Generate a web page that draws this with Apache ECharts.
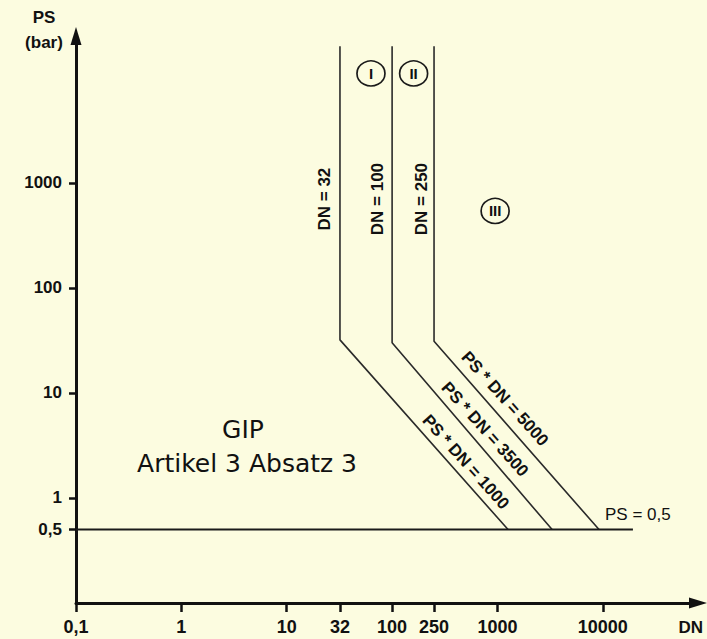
<!DOCTYPE html>
<html>
<head>
<meta charset="utf-8">
<script src="https://cdn.jsdelivr.net/npm/echarts@6/dist/echarts.min.js"></script>
<style>
  html, body { margin: 0; padding: 0; background: #fcfce0; }
  #chart { width: 707px; height: 639px; }
</style>
</head>
<body>
<div id="chart"></div>
<script>
// ---- data ----
const xTicks = [0.1, 1, 10, 32, 100, 250, 1000, 10000];   // DN
const yTicks = [0.5, 1, 10, 100, 1000];                     // PS (bar)
const curveI   = [[32, 20000], [32, 32], [1260, 0.5]];      // DN = 32 / PS*DN = 1000
const curveII  = [[100, 20000], [100, 30], [3300, 0.5]];    // DN = 100 / PS*DN = 3500
const curveIII = [[250, 20000], [250, 31], [9200, 0.5]];    // DN = 250 / PS*DN = 5000
const psLine   = [[0.1, 0.5], [19300, 0.5]];                // PS = 0,5

const FONT = 'Liberation Sans, Arial, sans-serif';
const INK = '#111111';

function fmtTick(ticks) {
  return function (v) {
    let best = ticks[0], d = Infinity;
    ticks.forEach(t => {
      const dd = Math.abs(Math.log10(t) - Math.log10(v));
      if (dd < d) { d = dd; best = t; }
    });
    return String(best).replace('.', ',');
  };
}

function lineSeries(data) {
  return {
    type: 'line', data: data, symbol: 'none', silent: true,
    lineStyle: { color: '#2a2a2a', width: 1.6 }, z: 3
  };
}

function textSeries(pt, text, extra) {
  return {
    type: 'scatter', data: [pt], symbolSize: 0, silent: true, z: 5,
    itemStyle: { color: 'rgba(0,0,0,0)', opacity: 1 },
    label: Object.assign({
      show: true, position: 'inside', formatter: text,
      align: 'center', verticalAlign: 'middle',
      textBorderWidth: 0, textBorderColor: 'rgba(0,0,0,0)',
      fontFamily: FONT, fontSize: 17, fontWeight: 'bold', color: INK
    }, extra || {})
  };
}

function circleSeries(pt, text) {
  return {
    type: 'scatter', data: [pt], symbol: 'circle', symbolSize: [28, 25], silent: true, z: 5,
    itemStyle: { color: 'rgba(0,0,0,0)', borderColor: '#1a1a1a', borderWidth: 1.6, opacity: 1 },
    label: { show: true, position: 'inside', formatter: text, fontFamily: FONT,
             textBorderWidth: 0, textBorderColor: 'rgba(0,0,0,0)',
             fontSize: 15, fontWeight: 'bold', color: INK }
  };
}

const chart = echarts.init(document.getElementById('chart'), null, { renderer: 'svg' });
chart.setOption({
  backgroundColor: '#fcfce0',
  animation: false,
  grid: { left: 76, right: 9, top: 36, bottom: 36 },
  xAxis: {
    type: 'log', logBase: 10, min: 0.1, max: 80000,
    name: 'DN', nameLocation: 'end', nameGap: 5,
    nameTextStyle: { align: 'right', verticalAlign: 'top', padding: [16, 0, 0, 0],
                     fontFamily: FONT, fontSize: 17, fontWeight: 'bold', color: INK },
    axisLine: { show: true, onZero: false, symbol: ['none', 'triangle'], symbolSize: [11, 18],
                lineStyle: { color: '#111', width: 3 } },
    axisTick: { show: true, customValues: xTicks, length: 9, lineStyle: { color: '#111', width: 2.5 } },
    axisLabel: { customValues: xTicks, formatter: fmtTick(xTicks), margin: 15,
                 fontFamily: FONT, fontSize: 18, fontWeight: 'bold', color: INK },
    splitLine: { show: false }, minorTick: { show: false }
  },
  yAxis: {
    type: 'log', logBase: 10, min: 0.1, max: 25000,
    name: 'PS\n(bar)', nameLocation: 'end', nameGap: 6,
    nameTextStyle: { align: 'center', verticalAlign: 'middle', lineHeight: 25, padding: [0, 64, 0, 0],
                     fontFamily: FONT, fontSize: 17, fontWeight: 'bold', color: INK },
    axisLine: { show: true, onZero: false, symbol: ['none', 'triangle'], symbolSize: [11, 18],
                lineStyle: { color: '#111', width: 3 } },
    axisTick: { show: true, customValues: yTicks, length: 7, lineStyle: { color: '#111', width: 2.5 } },
    axisLabel: { customValues: yTicks, formatter: fmtTick(yTicks), margin: 14,
                 fontFamily: FONT, fontSize: 17, fontWeight: 'bold', color: INK },
    splitLine: { show: false }, minorTick: { show: false }
  },
  series: [
    lineSeries(curveI), lineSeries(curveII), lineSeries(curveIII),
    Object.assign(lineSeries(psLine), { lineStyle: { color: '#1a1a1a', width: 2 } }),
    textSeries([23, 700], 'DN = 32', { rotate: 90 }),
    textSeries([73, 700], 'DN = 100', { rotate: 90 }),
    textSeries([190, 700], 'DN = 250', { rotate: 90 }),
    textSeries([1175, 8.8], 'PS * DN = 5000', { rotate: -48 }),
    textSeries([760, 4.5], 'PS * DN = 3500', { rotate: -48 }),
    textSeries([500, 2.2], 'PS * DN = 1000', { rotate: -48 }),
    textSeries([21500, 0.7], 'PS = 0,5', { fontWeight: 'normal' }),
    textSeries([3.84, 4.5], 'GIP', { fontFamily: 'DejaVu Sans', fontSize: 25, fontWeight: 'normal' }),
    textSeries([4.2, 2.15], 'Artikel 3 Absatz 3', { fontFamily: 'DejaVu Sans', fontSize: 25, fontWeight: 'normal' }),
    circleSeries([63, 11000], 'I'),
    circleSeries([160, 11000], 'II'),
    circleSeries([950, 540], 'III')
  ]
});
</script>
</body>
</html>
